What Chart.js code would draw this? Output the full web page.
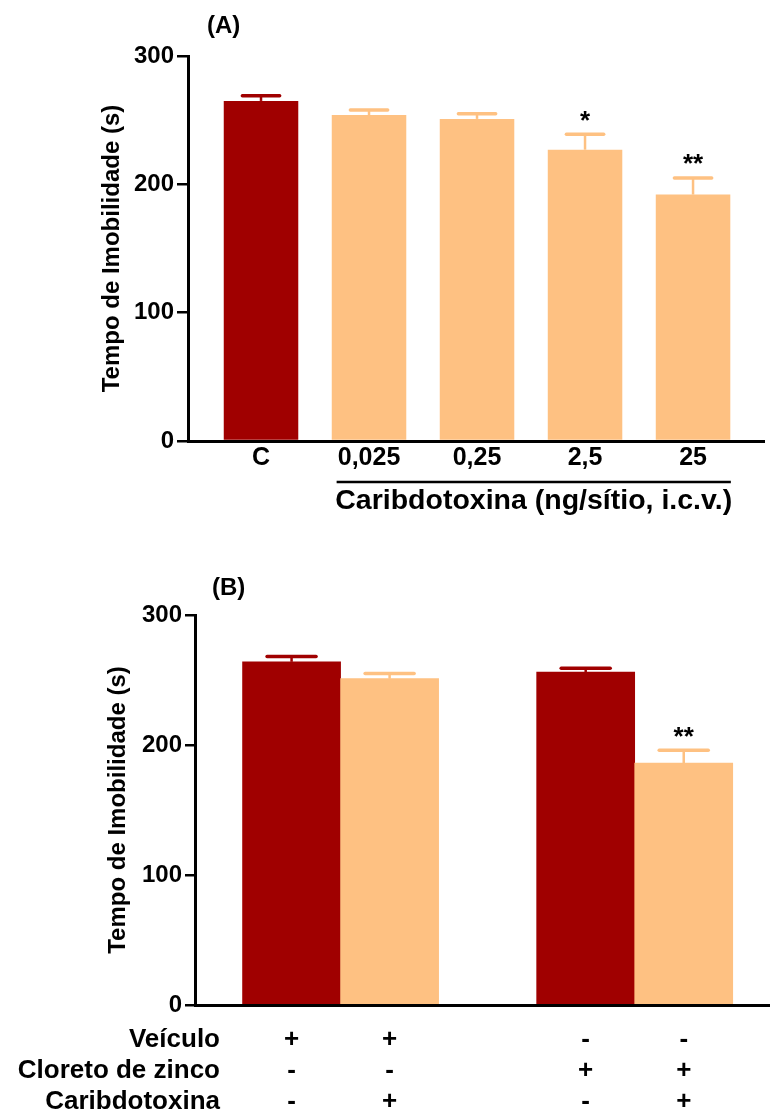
<!DOCTYPE html>
<html>
<head>
<meta charset="utf-8">
<script src="https://cdn.jsdelivr.net/npm/chart.js@4"></script>
<style>
	body { margin: 0; background: #fff; }
	canvas { position: absolute; left: 0; }
</style>
</head>
<body>
<canvas id="chartA" width="770" height="545" style="top:0"></canvas>
<canvas id="chartB" width="770" height="553" style="top:560px"></canvas>
<script>
const DARK = '#a00000'
const LIGHT = '#fec182'
const FONT = "'Liberation Sans', Arial, sans-serif"

// panel A
const catsA = ['C', '0,025', '0,25', '2,5', '25']
const meansA = [265, 254, 251, 227, 192]
const semA = [4, 4, 4, 12, 13]
const sigA = ['', '', '', '*', '**']
const colorsA = [DARK, LIGHT, LIGHT, LIGHT, LIGHT]
const groupLabelA = 'Caribdotoxina (ng/sítio, i.c.v.)'

// panel B
const slotsB = [0, 1, 3, 4]
const meansB = [264, 251, 256, 186]
const semB = [4, 4, 3, 10]
const sigB = ['', '', '', '**']
const colorsB = [DARK, LIGHT, DARK, LIGHT]
const rowLabelsB = ['Veículo', 'Cloreto de zinco', 'Caribdotoxina']
const signsB = [
	['+', '+', '-', '-'],
	['-', '-', '+', '+'],
	['-', '+', '-', '+']
]

const yTitle = 'Tempo de Imobilidade (s)'

// draws the upper SEM whisker and the significance stars over each bar
const errorBars = {
	id: 'errorBars',
	afterDatasetsDraw(chart, args, opts) {
		const { ctx } = chart
		const y = chart.scales.y
		const meta = chart.getDatasetMeta(0)
		meta.data.forEach((bar, i) => {
			const color = opts.colors[i]
			const top = y.getPixelForValue(opts.means[i] + opts.sem[i])
			const half = bar.width / 4
			ctx.save()
			ctx.strokeStyle = color
			ctx.lineWidth = 2.5
			ctx.beginPath()
			ctx.moveTo(bar.x, bar.y)
			ctx.lineTo(bar.x, top)
			ctx.stroke()
			ctx.lineWidth = 3.5
			ctx.lineCap = 'round'
			ctx.beginPath()
			ctx.moveTo(bar.x - half, top)
			ctx.lineTo(bar.x + half, top)
			ctx.stroke()
			if (opts.sig[i]) {
				ctx.fillStyle = '#000'
				ctx.font = `bold 26px ${FONT}`
				ctx.textAlign = 'center'
				ctx.textBaseline = 'alphabetic'
				ctx.fillText(opts.sig[i], bar.x, top - 5.5)
			}
			ctx.restore()
		})
	}
}

const panelTitle = {
	id: 'panelTitle',
	afterDraw(chart, args, opts) {
		const { ctx } = chart
		ctx.save()
		ctx.fillStyle = '#000'
		ctx.font = `bold 24px ${FONT}`
		ctx.textAlign = 'left'
		ctx.textBaseline = 'alphabetic'
		ctx.fillText(opts.text, opts.x, opts.y)
		ctx.restore()
	}
}

function yScale(width, titlePad, tickLength) {
	return {
		min: 0,
		max: 300,
		ticks: { stepSize: 100, color: '#000', padding: 3, font: { family: FONT, size: 24, weight: 'bold' } },
		grid: { display: true, drawOnChartArea: false, drawTicks: true, tickLength: tickLength, color: '#000', lineWidth: 2.5 },
		border: { display: true, color: '#000', width: 3 },
		title: { display: true, text: yTitle, color: '#000', padding: { top: titlePad, bottom: 0 }, font: { family: FONT, size: 24, weight: 'bold' } },
		afterFit: (scale) => { scale.width = width }
	}
}

Chart.defaults.font.family = FONT
Chart.defaults.animation = false

const chartA = new Chart(document.getElementById('chartA'), {
	type: 'bar',
	data: {
		datasets: [{
			data: catsA.map((c, i) => ({ x: i, y: meansA[i] })),
			backgroundColor: colorsA,
			borderWidth: 0,
			categoryPercentage: 1,
			barPercentage: 0.69
		}]
	},
	options: {
		responsive: false,
		layout: { padding: { left: 90, top: 56, right: 6, bottom: 0 } },
		scales: {
			x: {
				type: 'linear',
				offset: false,
				min: -0.676,
				max: 4.657,
				afterBuildTicks: (scale) => { scale.ticks = catsA.map((c, i) => ({ value: i })) },
				ticks: { callback: (v) => catsA[v] ?? '', color: '#000', padding: 2, maxRotation: 0, font: { family: FONT, size: 25, weight: 'bold' } },
				grid: { display: false, drawTicks: false },
				border: { display: true, color: '#000', width: 3 },
				afterFit: (scale) => { scale.height = 104 }
			},
			y: yScale(98, 7.6, 11)
		},
		plugins: {
			legend: { display: false },
			tooltip: { enabled: false },
			errorBars: { means: meansA, sem: semA, sig: sigA, colors: colorsA },
			panelTitle: { text: '(A)', x: 207, y: 33 }
		}
	},
	plugins: [errorBars, panelTitle, {
		id: 'groupBracket',
		afterDraw(chart) {
			const { ctx } = chart
			const x = chart.scales.x
			const x0 = x.getPixelForValue(0.7)
			const x1 = x.getPixelForValue(4.35)
			ctx.save()
			ctx.strokeStyle = '#000'
			ctx.lineWidth = 2.5
			ctx.beginPath()
			ctx.moveTo(x0, 482)
			ctx.lineTo(x1, 482)
			ctx.stroke()
			ctx.fillStyle = '#000'
			ctx.font = `bold 28.5px ${FONT}`
			ctx.textAlign = 'center'
			ctx.textBaseline = 'alphabetic'
			ctx.fillText(groupLabelA, (x0 + x1) / 2, 509)
			ctx.restore()
		}
	}]
})

const chartB = new Chart(document.getElementById('chartB'), {
	type: 'bar',
	data: {
		datasets: [{
			data: slotsB.map((s, i) => ({ x: s, y: meansB[i] })),
			backgroundColor: colorsB,
			borderWidth: 0,
			categoryPercentage: 1,
			barPercentage: 1
		}]
	},
	options: {
		responsive: false,
		layout: { padding: { left: 90, top: 55, right: 0, bottom: 0 } },
		scales: {
			x: {
				type: 'linear',
				offset: false,
				min: -0.985,
				max: 4.88,
				afterBuildTicks: (scale) => { scale.ticks = slotsB.map(s => ({ value: s })) },
				ticks: { display: false },
				grid: { display: false, drawTicks: false },
				border: { display: true, color: '#000', width: 3 },
				afterFit: (scale) => { scale.height = 108 }
			},
			y: yScale(105, 13.6, 10)
		},
		plugins: {
			legend: { display: false },
			tooltip: { enabled: false },
			errorBars: { means: meansB, sem: semB, sig: sigB, colors: colorsB },
			panelTitle: { text: '(B)', x: 212, y: 35 }
		}
	},
	plugins: [errorBars, panelTitle, {
		id: 'treatmentRows',
		afterDraw(chart) {
			const { ctx } = chart
			const meta = chart.getDatasetMeta(0)
			const baselines = [487, 518, 549]
			ctx.save()
			ctx.fillStyle = '#000'
			ctx.font = `bold 26px ${FONT}`
			ctx.textBaseline = 'alphabetic'
			rowLabelsB.forEach((label, r) => {
				ctx.textAlign = 'right'
				ctx.fillText(label, 220, baselines[r])
				ctx.textAlign = 'center'
				signsB[r].forEach((s, i) => ctx.fillText(s, meta.data[i].x, baselines[r]))
			})
			ctx.restore()
		}
	}]
})
</script>
</body>
</html>
